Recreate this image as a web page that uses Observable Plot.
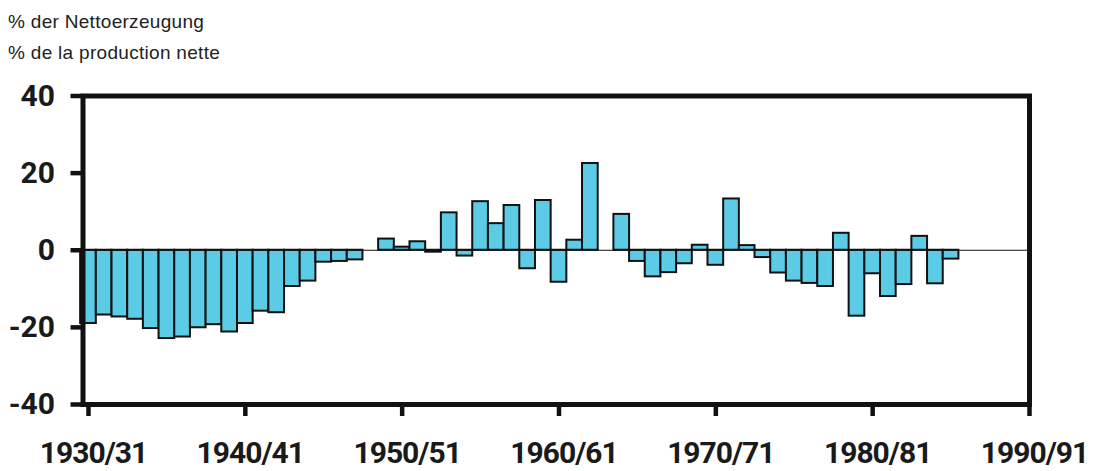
<!DOCTYPE html>
<html><head><meta charset="utf-8">
<script src="https://cdn.jsdelivr.net/npm/d3@7"></script>
<script src="https://cdn.jsdelivr.net/npm/@observablehq/plot@0.6"></script>
<style>
body{margin:0;background:#fff;}
#wrap{position:relative;width:1102px;height:471px;overflow:hidden;background:#fff;}
.t{position:absolute;left:8px;font-family:"Liberation Sans",Arial,sans-serif;font-size:19px;color:#222;line-height:19px;white-space:nowrap;letter-spacing:0.3px;}
#chart{position:absolute;left:0;top:72px;}
#chart svg text{font-family:"Roboto",sans-serif;}
[aria-label="x-axis tick label"]{letter-spacing:-1px;}
</style></head><body>
<div id="wrap">
<div class="t" style="top:12px">% der Nettoerzeugung</div>
<div class="t" style="top:43px">% de la production nette</div>
<div id="chart"></div>
</div>
<script>
const years = [1930,1931,1932,1933,1934,1935,1936,1937,1938,1939,
               1940,1941,1942,1943,1944,1945,1946,1947,1948,1949,
               1950,1951,1952,1953,1954,1955,1956,1957,1958,1959,
               1960,1961,1962,1963,1964,1965,1966,1967,1968,1969,
               1970,1971,1972,1973,1974,1975,1976,1977,1978,1979,
               1980,1981,1982,1983,1984,1985];
const values = [-19.0,-16.8,-17.3,-17.9,-20.3,-22.9,-22.5,-20.1,-19.3,-21.2,
                -19.0,-15.8,-16.2,-9.4,-8.0,-3.1,-2.9,-2.5,0,2.9,
                0.8,2.2,-0.5,9.7,-1.5,12.6,6.9,11.6,-4.8,12.9,
                -8.3,2.6,22.5,0,9.3,-2.9,-6.9,-5.8,-3.5,1.3,
                -3.9,13.3,1.2,-1.9,-5.9,-8.0,-8.6,-9.4,4.4,-17.1,
                -6.1,-12.0,-8.9,3.6,-8.7,-2.3];
const yTicks = [-40,-20,0,20,40];
const xTicks = [1930,1940,1950,1960,1970,1980,1990];
const xLabel = d => `${d}/${String((d+1)%100).padStart(2,"0")}`;

const data = years.map((y,i)=>({year:y, value:values[i]}));
const chart = Plot.plot({
  width:1102, height:399,
  marginTop:23.5, marginBottom:67, marginLeft:82.5, marginRight:73,
  x:{domain:[1929.65,1990]},
  y:{domain:[-40,40]},
  style:{fontFamily:"Roboto, sans-serif", color:"#1a1a1a", background:"#fff", overflow:"visible"},
  marks:[
    Plot.rect(data,{x1:d=>d.year-0.5, x2:d=>d.year+0.5, y1:0, y2:"value", fill:"#5ccbe6", stroke:"#111", strokeWidth:2}),
    Plot.ruleY([0],{stroke:"#111", strokeWidth:1}),
    Plot.frame({stroke:"#111", strokeWidth:5}),
    Plot.axisY({ticks:yTicks, tickFormat:d=>String(d), tickSize:12, tickPadding:16, stroke:"#111", strokeWidth:4.5, fontSize:30, fontWeight:700, label:null}),
    Plot.axisX({ticks:xTicks, tickFormat:()=>"", tickSize:12, stroke:"#111", strokeWidth:4.5, label:null}),
    Plot.axisX({ticks:xTicks, tickFormat:xLabel, tickSize:0, tickPadding:37, dx:5, fontSize:30, fontWeight:700, label:null})
  ]
});
document.getElementById("chart").appendChild(chart);
</script>
</body></html>
